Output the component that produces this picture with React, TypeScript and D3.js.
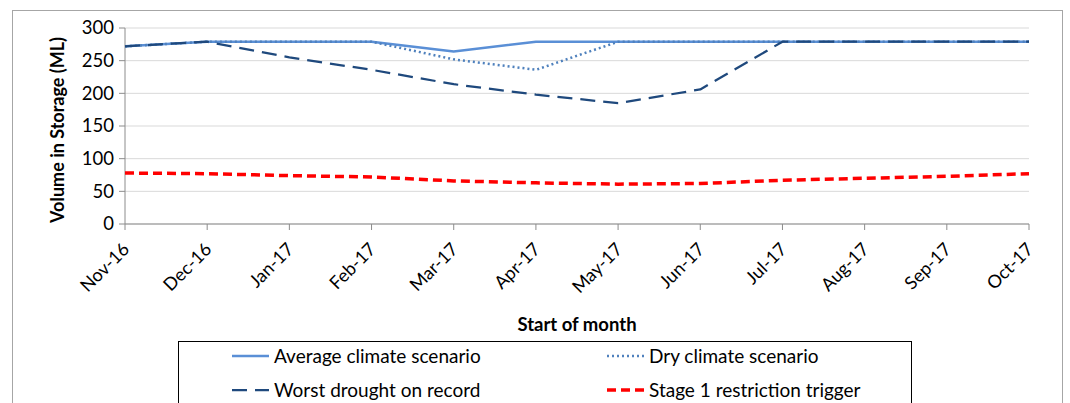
import React from "react";
import * as d3 from "d3";

const months = ["Nov-16", "Dec-16", "Jan-17", "Feb-17", "Mar-17", "Apr-17", "May-17", "Jun-17", "Jul-17", "Aug-17", "Sep-17", "Oct-17"];
const averageClimate = [272, 279, 279, 279, 264, 279, 279, 279, 279, 279, 279, 279];
const dryClimate = [272, 279, 279, 279, 252, 236, 279, 279, 279, 279, 279, 279];
const worstDrought = [272, 279, 255, 236, 214, 198, 185, 206, 279, 279, 279, 279];
const stage1Trigger = [78, 77, 74, 72, 66, 63, 61, 62, 67, 70, 73, 77];
const yTicks = [0, 50, 100, 150, 200, 250, 300];

const FONT = "Lato, 'Open Sans', sans-serif";

const series = [
  { name: "Average climate scenario", values: averageClimate, color: "#5a8fd6", width: 2.5, dash: "" },
  { name: "Dry climate scenario", values: dryClimate, color: "#4f81bd", width: 2.5, dash: "2,3" },
  { name: "Worst drought on record", values: worstDrought, color: "#1f497d", width: 2.25, dash: "15,8" },
  { name: "Stage 1 restriction trigger", values: stage1Trigger, color: "#ff0000", width: 3.5, dash: "9,5" },
];

export default function App() {
  const width = 1070;
  const height = 403;
  const plot = { left: 125, right: 1029, top: 28, bottom: 224 };

  const x = d3.scalePoint<string>().domain(months).range([plot.left, plot.right]);
  const y = d3.scaleLinear().domain([0, 300]).range([plot.bottom, plot.top]);

  const line = d3
    .line<number>()
    .x((_, i) => x(months[i]) ?? 0)
    .y((d) => y(d));

  // legend layout: two columns, two rows
  const legendCols = [232, 607];
  const legendRows = [356, 390];

  return (
    <svg width={width} height={height} style={{ position: "absolute", left: 0, top: 0 }} fontFamily={FONT}>
      <rect x={0} y={0} width={width} height={height} fill="#fff" />
      <rect x={12.5} y={10.5} width={1050} height={420} fill="#fff" stroke="#a6a6a6" strokeWidth={1} />

      {/* gridlines */}
      {yTicks.map((t) => (
        <line key={t} x1={plot.left} x2={plot.right} y1={y(t)} y2={y(t)} stroke="#d9d9d9" strokeWidth={1} />
      ))}

      {/* axes */}
      <line x1={plot.left} x2={plot.left} y1={plot.top} y2={plot.bottom} stroke="#8c8c8c" />
      <line x1={plot.left} x2={plot.right} y1={plot.bottom} y2={plot.bottom} stroke="#8c8c8c" />
      {yTicks.map((t) => (
        <g key={t}>
          <line x1={plot.left - 6} x2={plot.left} y1={y(t)} y2={y(t)} stroke="#8c8c8c" />
          <text x={plot.left - 11} y={y(t)} dy="0.35em" textAnchor="end" fontSize={18.5} fill="#000">
            {t}
          </text>
        </g>
      ))}
      {months.map((m) => (
        <g key={m}>
          <line x1={x(m)} x2={x(m)} y1={plot.bottom} y2={plot.bottom + 6} stroke="#8c8c8c" />
          <text
            transform={`translate(${(x(m) ?? 0) + 1},${plot.bottom + 22}) rotate(-45)`}
            textAnchor="end"
            fontSize={18}
            dy="0.35em"
            fill="#000"
          >
            {m}
          </text>
        </g>
      ))}

      {/* axis titles */}
      <text
        transform={`translate(64,${(plot.top + plot.bottom) / 2 + 4}) rotate(-90)`}
        textAnchor="middle"
        fontSize={18}
        fontWeight="bold"
      >
        Volume in Storage (ML)
      </text>
      <text x={(plot.left + plot.right) / 2} y={331} textAnchor="middle" fontSize={18.5} fontWeight="bold">
        Start of month
      </text>

      {/* series */}
      {series.map((s) => (
        <path
          key={s.name}
          d={line(s.values) ?? ""}
          fill="none"
          stroke={s.color}
          strokeWidth={s.width}
          strokeDasharray={s.dash || undefined}
          strokeLinejoin="round"
        />
      ))}

      {/* legend */}
      <rect x={178.5} y={341.5} width={733} height={80} fill="#fff" stroke="#000" strokeWidth={1} />
      {series.map((s, i) => {
        const cx = legendCols[i % 2];
        const cy = legendRows[Math.floor(i / 2)];
        return (
          <g key={s.name}>
            <line
              x1={cx}
              x2={cx + 37}
              y1={cy}
              y2={cy}
              stroke={s.color}
              strokeWidth={s.width}
              strokeDasharray={s.dash || undefined}
            />
            <text x={cx + 42} y={cy} dy="0.35em" fontSize={19} fill="#000">
              {s.name}
            </text>
          </g>
        );
      })}
    </svg>
  );
}
